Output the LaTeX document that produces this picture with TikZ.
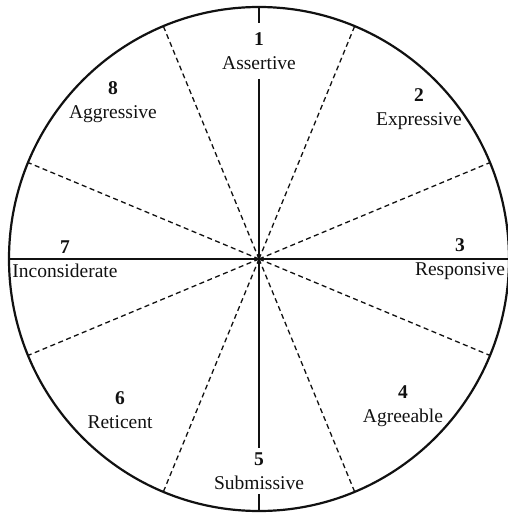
\documentclass[tikz,border=0pt]{standalone}
\usepackage{fontspec}
\setmainfont{Liberation Serif}
\usepackage{tikz}
\usetikzlibrary{calc}
\definecolor{ink}{HTML}{111111}

\begin{document}
\begin{tikzpicture}[x=1pt,y=-1pt,
  rim/.style={ink,line width=2.2pt},
  axis/.style={ink,line width=2.2pt},
  sep/.style={ink,line width=1.3pt,dash pattern=on 5pt off 3.5pt},
  sector/.style={ink,align=center,inner sep=2pt,font=\fontsize{19.5}{24.5}\selectfont}]
  \clip (0,0) rectangle (508,514);
  \coordinate (ctr) at (259,259);
  \coordinate (top) at (259,7);
  \coordinate (bot) at (259,511);
  \coordinate (lft) at (9,259);
  \coordinate (rgt) at (509,259);
  % dashed dividers
  \foreach \a in {22.5,67.5,...,337.5}
    \draw[sep] (ctr) -- ([shift={(\a:250pt and 252pt)}]ctr);
  % labels
  \node[sector,inner ysep=9pt] (s1) at (259,51) {\textbf{1}\\Assertive};
  \node[sector] (s2) at (419,109) {\textbf{2}\\Expressive};
  \node[sector] (s3) at (460,259) {\textbf{3}\\Responsive};
  \node[sector] (s4) at (403,406) {\textbf{4}\\Agreeable};
  \node[sector,inner ysep=4pt] (s5) at (259,471) {\textbf{5}\\Submissive};
  \node[sector] (s6) at (120,410) {\textbf{6}\\Reticent};
  \node[sector] (s7) at (65,259) {\textbf{7}\\Inconsiderate};
  \node[sector] (s8) at (113,102) {\textbf{8}\\Aggressive};
  % axes and rim
  \draw[axis] (top) -- (s1);
  \draw[axis] (s1) -- (s5);
  \draw[axis] (s5) -- (bot);
  \draw[axis] (lft) -- (rgt);
  \draw[rim] (ctr) ellipse [x radius=250pt, y radius=252pt];
\end{tikzpicture}
\end{document}
